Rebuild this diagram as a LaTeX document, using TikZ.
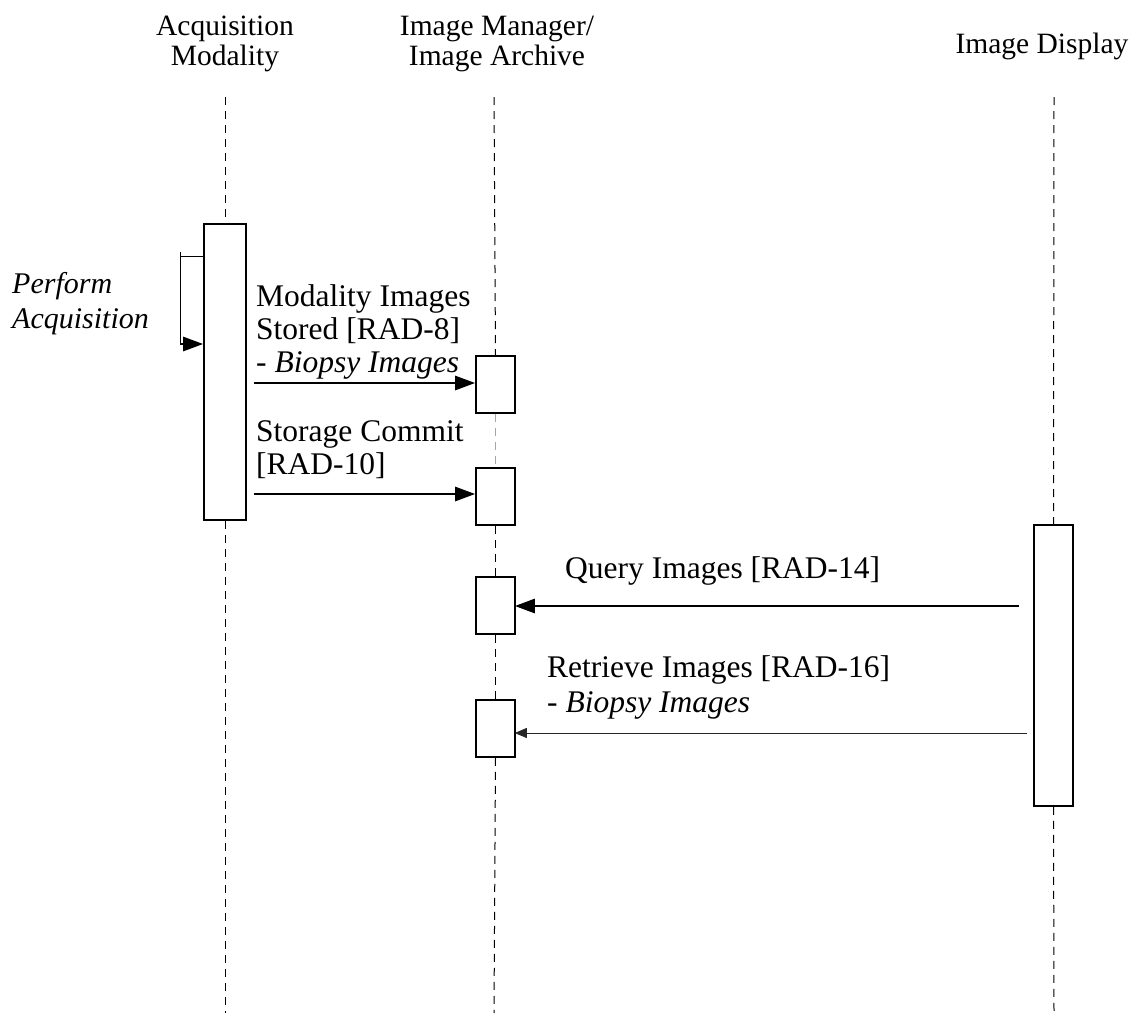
\documentclass[tikz,border=0pt]{standalone}
\usepackage{fontspec}
\setmainfont{Liberation Serif}
\usetikzlibrary{arrows.meta}
\begin{document}
\begin{tikzpicture}[x=1pt,y=-1pt,
  life/.style={draw=black, line width=1pt, dash pattern=on 8pt off 6pt},
  lifegray/.style={draw=gray!70, line width=0.6pt, dash pattern=on 8pt off 6pt},
  act/.style={draw=black, fill=white, line width=1.6pt, inner sep=0pt, minimum width=#1},
  act/.default=40pt,
  msg/.style={line width=2.6pt, -{Triangle[length=20pt,width=14pt]}},
  thinmsg/.style={line width=0.8pt, draw=black!85, -{Triangle[length=12pt,width=10pt]}},
  head/.style={font=\fontsize{29.5}{30}\selectfont, align=center, inner sep=0pt},
  lbl/.style={font=\fontsize{31.5}{33}\selectfont, align=left, anchor=north west, inner sep=0pt}
]
\useasboundingbox (0,0) rectangle (1141,1013);
% headers
\node[head] (hA) at (225,44) {Acquisition\\Modality};
\node[head] (hM) at (497,44) {Image Manager/\\Image Archive};
\node[head] (hD) at (1042,46) {Image Display};
% lifeline ends
\coordinate (la0) at (225,97);
\coordinate (la1) at (225,1013);
\coordinate (lm0) at (494,97);
\coordinate (lm1) at (494,1013);
\coordinate (ld0) at (1054,97);
\coordinate (ld1) at (1054,1013);
% activation boxes
\node[act=42pt, minimum height=296pt] (am) at (225,372) {};
\node[act=39pt, minimum height=57pt] (im1) at (495.5,384.5) {};
\node[act=39pt, minimum height=57pt] (im2) at (495.5,496.5) {};
\node[act=39pt, minimum height=57pt] (im3) at (495.5,605.5) {};
\node[act=39pt, minimum height=57pt] (im4) at (495.5,728.5) {};
\node[act=39pt, minimum height=281pt] (id) at (1053.5,665.5) {};
% lifelines
\draw[life] (la0) -- (am.north);
\draw[life] (am.south) -- (la1);
\draw[life] (lm0) -- (im1.north);
\draw[lifegray] (im1.south) -- (im2.north);
\draw[life] (im2.south) -- (im3.north);
\draw[life] (im3.south) -- (im4.north);
\draw[life] (im4.south) -- (lm1);
\draw[life] (ld0) -- (id.north);
\draw[life] (id.south) -- (ld1);
% self message
\coordinate (s0) at (203,256);
\coordinate (s1) at (180,256);
\coordinate (s2) at (180,344);
\draw[line width=1pt] (s0) -- (s1);
\draw[line width=1pt] ([yshift=4pt]s1) -- (s2);
\draw[line width=2.6pt, -{Triangle[length=20pt,width=14pt]}] (s2) -- (s2 -| am.west);
\node[lbl, font=\fontsize{30}{35}\selectfont\itshape] (tP) at (12,272) {Perform\\Acquisition};
% messages
\draw[msg] ([xshift=7pt]am.east |- 0,383) -- (im1.west |- 0,383);
\node[lbl] (t1) at (256,284) {Modality Images\\Stored [RAD-8]\\- \textit{Biopsy Images}};
\draw[msg] ([xshift=7pt]am.east |- 0,494) -- (im2.west |- 0,494);
\node[lbl] (t2) at (256,420) {Storage Commit\\{[RAD-10]}};
\draw[msg] ([xshift=-14pt]id.west |- 0,606) -- ([xshift=-1pt]im3.east |- 0,606);
\node[lbl] (t3) at (565,556) {Query Images [RAD-14]};
\draw[thinmsg] ([xshift=-6pt]id.west |- 0,733) -- ([xshift=-1pt]im4.east |- 0,733);
\node[lbl, font=\fontsize{31.5}{35}\selectfont] (t4) at (547,655) {Retrieve Images [RAD-16]\\- \textit{Biopsy Images}};
\end{tikzpicture}
\end{document}
